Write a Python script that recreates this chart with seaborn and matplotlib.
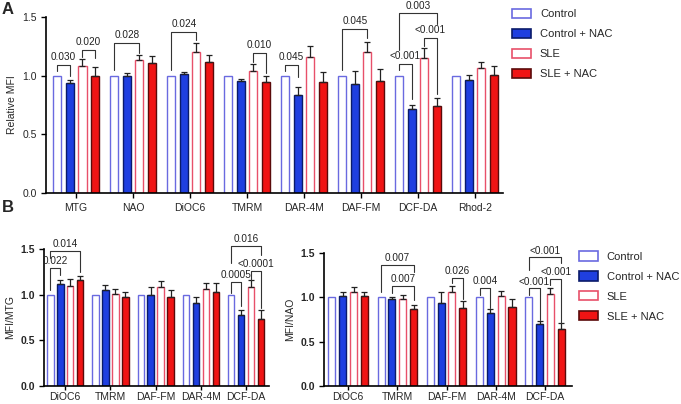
import matplotlib
matplotlib.use("Agg")
import matplotlib.pyplot as plt
from matplotlib.patches import Patch
import seaborn as sns
import pandas as pd

sns.set_theme(style="ticks")
plt.rcParams['font.family'] = ['Liberation Sans', 'DejaVu Sans']

groups = ["Control", "Control + NAC", "SLE", "SLE + NAC"]

# panel A
markers_a = ["MTG", "NAO", "DiOC6", "TMRM", "DAR-4M", "DAF-FM", "DCF-DA", "Rhod-2"]
ctrl_a = [1.0, 1.0, 1.0, 1.0, 1.0, 1.0, 1.0, 1.0]
ctrl_nac_a = [0.935, 1.0, 1.015, 0.957, 0.835, 0.927, 0.716, 0.963]
sle_a = [1.085, 1.13, 1.2, 1.04, 1.157, 1.2, 1.153, 1.068]
sle_nac_a = [1.0, 1.105, 1.12, 0.949, 0.949, 0.957, 0.744, 1.006]
ctrl_a_err = [0, 0, 0, 0, 0, 0, 0, 0]
ctrl_nac_a_err = [0.025, 0.02, 0.02, 0.017, 0.071, 0.116, 0.037, 0.045]
sle_a_err = [0.06, 0.05, 0.08, 0.057, 0.099, 0.084, 0.08, 0.051]
sle_nac_a_err = [0.077, 0.06, 0.06, 0.051, 0.085, 0.103, 0.068, 0.079]

# panel B
markers_b = ["DiOC6", "TMRM", "DAF-FM", "DAR-4M", "DCF-DA"]
ctrl_mtg = [1.0, 1.0, 1.0, 1.0, 1.0]
ctrl_nac_mtg = [1.117, 1.051, 0.993, 0.905, 0.78]
sle_mtg = [1.095, 1.007, 1.081, 1.062, 1.081]
sle_nac_mtg = [1.158, 0.978, 0.971, 1.029, 0.736]
ctrl_mtg_err = [0, 0, 0, 0, 0]
ctrl_nac_mtg_err = [0.044, 0.055, 0.095, 0.073, 0.052]
sle_mtg_err = [0.073, 0.055, 0.073, 0.063, 0.08]
sle_nac_mtg_err = [0.047, 0.051, 0.08, 0.103, 0.096]

ctrl_nao = [1.0, 1.0, 1.0, 1.0, 1.0]
ctrl_nac_nao = [1.018, 0.981, 0.937, 0.819, 0.7]
sle_nao = [1.063, 0.985, 1.056, 1.011, 1.037]
sle_nac_nao = [1.018, 0.874, 0.881, 0.896, 0.645]
ctrl_nao_err = [0, 0, 0, 0, 0]
ctrl_nac_nao_err = [0.038, 0.019, 0.119, 0.055, 0.037]
sle_nao_err = [0.059, 0.037, 0.074, 0.063, 0.067]
sle_nac_nao_err = [0.038, 0.045, 0.082, 0.085, 0.067]

# brackets: (marker idx, bar i, bar j, top, left leg end, right leg end, p-value)
brackets_a = [
    (0, 0, 1, 1.09, 1.04, 1.0, "0.030"),
    (0, 2, 3, 1.22, 1.16, 1.15, "0.020"),
    (1, 0, 2, 1.275, 1.05, 1.19, "0.028"),
    (2, 0, 2, 1.37, 1.05, 1.30, "0.024"),
    (3, 2, 3, 1.19, 1.12, 1.02, "0.010"),
    (4, 0, 1, 1.09, 1.04, 0.99, "0.045"),
    (5, 0, 2, 1.40, 1.05, 1.32, "0.045"),
    (6, 0, 1, 1.10, 1.05, 0.80, "<0.001"),
    (6, 2, 3, 1.32, 1.25, 0.84, "<0.001"),
    (6, 0, 3, 1.53, 1.22, 1.44, "0.003"),
]
brackets_mtg = [
    (0, 0, 1, 1.29, 1.05, 1.216, "0.022"),
    (0, 0, 3, 1.48, 1.40, 1.25, "0.014"),
    (4, 0, 1, 1.143, 1.02, 0.87, "0.0005"),
    (4, 2, 3, 1.264, 1.16, 0.85, "<0.0001"),
    (4, 0, 3, 1.535, 1.345, 1.436, "0.016"),
]
brackets_nao = [
    (1, 0, 3, 1.367, 1.065, 1.29, "0.007"),
    (1, 1, 3, 1.129, 1.05, 0.97, "0.007"),
    (2, 2, 3, 1.222, 1.16, 0.98, "0.026"),
    (3, 0, 1, 1.104, 1.03, 0.88, "0.004"),
    (4, 0, 1, 1.103, 1.027, 0.75, "<0.001"),
    (4, 2, 3, 1.208, 1.14, 0.715, "<0.001"),
    (4, 0, 3, 1.454, 1.31, 1.386, "<0.001"),
]

face = ["white", "#1f3fe0", "white", "#f01414"]
edge = ["#6a6ae0", "#0a1a6a", "#e8506a", "#5a0a0a"]


def draw_panel(ax, markers, vals, errs, brackets, ylabel, xlim, bold_ticks=False,
               txt_off=0.025, xpad=4, xlen=3.5):
    rows = []
    for g, v in zip(groups, vals):
        for m, y in zip(markers, v):
            rows.append({"marker": m, "group": g, "value": y})
    df = pd.DataFrame(rows)
    sns.barplot(data=df, x="marker", y="value", hue="group", order=markers,
                hue_order=groups, width=0.88, gap=0.35, errorbar=None,
                legend=False, ax=ax)
    bar_sets = list(ax.containers)
    centers = {}
    for k, cont in enumerate(bar_sets):
        xs = []
        for bar in cont:
            bar.set_facecolor(face[k])
            bar.set_edgecolor(edge[k])
            bar.set_linewidth(1.0)
            xs.append(bar.get_x() + bar.get_width() / 2)
        centers[k] = xs
        if max(errs[k]) > 0:
            ax.errorbar(xs, vals[k], yerr=[[0] * len(xs), errs[k]], fmt="none",
                        ecolor="#222222", elinewidth=0.9, capsize=2, capthick=0.9,
                        zorder=1)
    for m, i, j, top, l1, l2, txt in brackets:
        x1, x2 = centers[i][m], centers[j][m]
        ax.plot([x1, x1, x2, x2], [l1, top, top, l2], color="#333333", lw=0.8,
                clip_on=False)
        ax.text((x1 + x2) / 2, top + txt_off, txt, ha="center", va="bottom",
                fontsize=7.2, color="#222222", clip_on=False)
    ax.set_ylim(0, 1.5)
    ax.set_yticks([0, 0.5, 1.0, 1.5])
    ax.set_yticklabels(["0.0", "0.5", "1.0", "1.5"],
                       fontweight="bold" if bold_ticks else "normal")
    ax.set_xlim(*xlim)
    ax.set_xlabel("")
    ax.set_ylabel(ylabel, fontsize=7.5, labelpad=4)
    ax.tick_params(axis="both", labelsize=7.5, length=3.5, width=1.0,
                   color="black", direction="out", pad=3)
    ax.tick_params(axis="x", pad=xpad, length=xlen)
    sns.despine(ax=ax)
    for s in ["left", "bottom"]:
        ax.spines[s].set_linewidth(1.2)
        ax.spines[s].set_color("black")


fig = plt.figure(figsize=(6.81, 4.04), dpi=100)
ax_a = fig.add_axes([0.0675, 0.5223, 0.671, 0.4356])
ax_b1 = fig.add_axes([0.0646, 0.0453, 0.330, 0.338])
ax_b2 = fig.add_axes([0.4758, 0.0453, 0.3642, 0.3277])

draw_panel(ax_a, markers_a, [ctrl_a, ctrl_nac_a, sle_a, sle_nac_a],
           [ctrl_a_err, ctrl_nac_a_err, sle_a_err, sle_nac_a_err],
           brackets_a, "Relative MFI", (-0.53, 7.49))
draw_panel(ax_b1, markers_b, [ctrl_mtg, ctrl_nac_mtg, sle_mtg, sle_nac_mtg],
           [ctrl_mtg_err, ctrl_nac_mtg_err, sle_mtg_err, sle_nac_mtg_err],
           brackets_mtg, "MFI/MTG", (-0.47, 4.5), bold_ticks=True,
           txt_off=0.02, xpad=1.5, xlen=3)
draw_panel(ax_b2, markers_b, [ctrl_nao, ctrl_nac_nao, sle_nao, sle_nac_nao],
           [ctrl_nao_err, ctrl_nac_nao_err, sle_nao_err, sle_nac_nao_err],
           brackets_nao, "MFI/NAO", (-0.49, 4.55), bold_ticks=True,
           txt_off=0.02, xpad=1.5, xlen=3)

handles = [Patch(facecolor=face[k], edgecolor=edge[k], linewidth=1.2, label=g)
           for k, g in enumerate(groups)]
for anchor in [(0.752, 0.978), (0.85, 0.3775)]:
    fig.legend(handles=handles, loc="upper left", bbox_to_anchor=anchor,
               frameon=False, fontsize=8, handlelength=1.7, handleheight=0.9,
               labelspacing=0.85, handletextpad=0.8, borderpad=0,
               borderaxespad=0)

fig.text(0.003, 0.995, "A", fontsize=12, fontweight="bold", va="top", ha="left")
fig.text(0.003, 0.505, "B", fontsize=12, fontweight="bold", va="top", ha="left")

fig.savefig("out.png", dpi=100)
